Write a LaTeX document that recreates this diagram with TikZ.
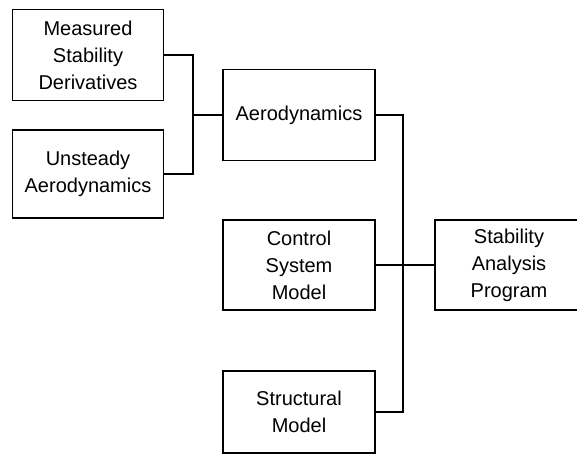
\documentclass[tikz,border=0pt]{standalone}
\usepackage{fontspec}
\setmainfont{Liberation Sans}
\usetikzlibrary{positioning}

\begin{document}
\begin{tikzpicture}[x=1pt, y=-1pt, line width=2.2pt,
	block/.style={draw, align=center, inner sep=0pt, line width=1.8pt, font=\fontsize{20}{27}\selectfont},
	wide/.style={block, minimum width=152pt}]
\clip (0,0) rectangle (577,464);
\node[block, minimum width=151pt, minimum height=91pt] (measured) at (88,55) {Measured\\Stability\\Derivatives};
\node[block, minimum width=151pt, minimum height=88pt] (unsteady) at (88,174) {Unsteady\\Aerodynamics};
\node[wide, minimum height=91pt] (aero) at (299,115) {Aerodynamics};
\node[wide, minimum height=90pt] (control) at (299,265) {Control\\System\\Model};
\node[wide, minimum height=82pt] (struct) at (299,412) {Structural\\Model};
\node[block, minimum width=148pt, minimum height=90pt] (stab) at (509,265) {Stability\\Analysis\\Program};
\coordinate (inputs) at (193,115);
\coordinate (bus) at (403,265);
\draw (measured.east) -| (inputs) |- (unsteady.east);
\draw (inputs) -- (aero.west);
\draw (aero.east) -| (bus) |- (struct.east);
\draw (control.east) -- (stab.west);
\end{tikzpicture}
\end{document}
